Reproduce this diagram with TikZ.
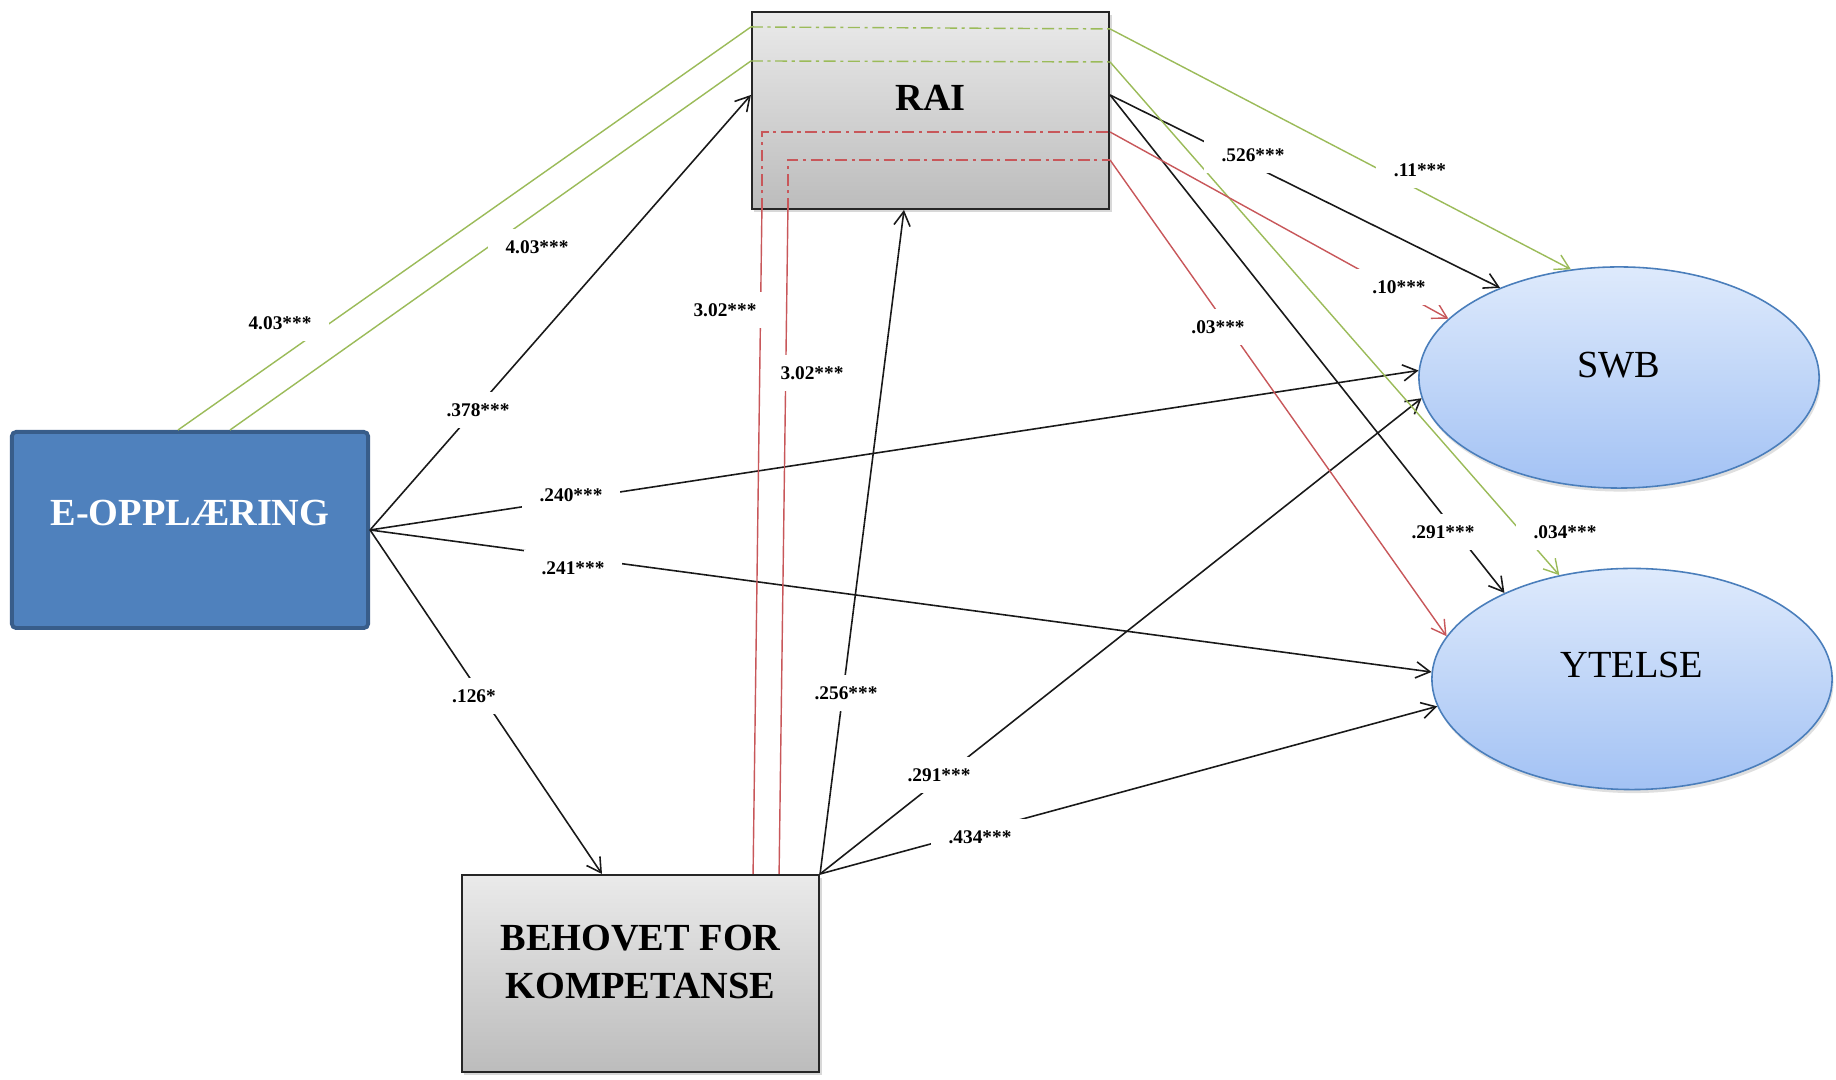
\documentclass[tikz,border=0pt]{standalone}
\usepackage{fontspec}
\setmainfont{Liberation Serif}
\usetikzlibrary{shapes.geometric,arrows.meta,shadows,calc}

\definecolor{boxtop}{HTML}{EAEAEA}
\definecolor{boxbot}{HTML}{BCBCBC}
\definecolor{ovaltop}{HTML}{DEEAFC}
\definecolor{ovalbot}{HTML}{A3C2F4}
\definecolor{ovalline}{HTML}{4A7EBB}
\definecolor{eblue}{HTML}{4F81BD}
\definecolor{eblueline}{HTML}{385D8A}
\definecolor{pathgreen}{HTML}{9BBB59}
\definecolor{pathred}{HTML}{C8575A}

\begin{document}
\begin{tikzpicture}[x=0.01cm, y=-0.01cm,
  mainfont/.style={font=\fontsize{10.9pt}{13.66pt}\selectfont},
  greybox/.style={rectangle, draw=black!85, line width=0.55pt,
    top color=boxtop, bottom color=boxbot,
    minimum width=3.57cm, minimum height=1.97cm, inner sep=0pt, align=center,
    mainfont, font=\fontsize{10.9pt}{13.66pt}\selectfont\bfseries,
    drop shadow={shadow xshift=0.7pt, shadow yshift=-0.9pt, opacity=0.3}},
  ebox/.style={rectangle, rounded corners=1.2pt, draw=eblueline, line width=1.1pt,
    fill=eblue, text=white, minimum width=3.56cm, minimum height=1.96cm, inner sep=0pt,
    font=\fontsize{10.9pt}{13.66pt}\selectfont\bfseries},
  oval/.style={ellipse, draw=ovalline, line width=0.45pt,
    top color=ovaltop, bottom color=ovalbot,
    minimum width=4cm, minimum height=2.21cm, inner sep=0pt,
    font=\fontsize{10.9pt}{13.66pt}\selectfont,
    drop shadow={shadow xshift=0.4pt, shadow yshift=-1pt, opacity=0.25}},
  coef/.style={fill=white, inner xsep=0.18cm, inner ysep=0.11cm,
    font=\fontsize{5.5pt}{6.6pt}\selectfont\bfseries},
  arr/.style={-{Straight Barb[length=4pt,width=4.6pt]}},
  blk/.style={draw=black!90, line width=0.45pt},
  grn/.style={draw=pathgreen, line width=0.4pt},
  rd/.style={draw=pathred, line width=0.4pt},
  dd/.style={dash pattern=on 3.4pt off 1.3pt on 0.9pt off 1.3pt}
]
\fill[white] (0,0) rectangle (1836,1080);
\useasboundingbox (0,0) rectangle (1836,1080);

% constructs
\node[greybox, text depth=0.26cm] (rai) at (930.5,110.5) {RAI};
\node[ebox, text depth=0.34cm] (eopp) at (190,530) {E-OPPLÆRING};
\node[greybox, text depth=0.24cm] (beh) at (640.5,973.5) {BEHOVET FOR\\KOMPETANSE};
\node[oval, text depth=0.25cm] (swb) at (1619,377.5) {SWB};
\node[oval, text depth=0.28cm] (ytelse) at (1632,679) {YTELSE};

% attachment points on RAI
\coordinate (raiW) at ([yshift=0.155cm]rai.west);
\coordinate (raiE) at ([yshift=0.155cm]rai.east);
\coordinate (raiS) at ([xshift=-0.265cm]rai.south);
\coordinate (g1in) at ([yshift=0.835cm]rai.west);
\coordinate (g1out) at ([yshift=0.815cm]rai.east);
\coordinate (g2in) at ([yshift=0.495cm]rai.west);
\coordinate (g2out) at ([yshift=0.485cm]rai.east);
\coordinate (r1in) at ([xshift=-1.685cm]rai.south);
\coordinate (r1out) at ([yshift=-0.215cm]rai.east);
\coordinate (r2in) at ([xshift=-1.425cm]rai.south);
\coordinate (r2out) at ([yshift=-0.495cm]rai.east);

% direct effects
\draw[blk, arr] (eopp.east) -- (raiW);
\draw[blk, arr] (eopp.east) -- (swb.178.6);
\draw[blk, arr] (eopp.east) -- (ytelse.178.6);
\draw[blk, arr] (eopp.east) -- ([xshift=-0.385cm]beh.north);
\draw[blk, arr] (beh.north east) -- (raiS);
\draw[blk, arr] (beh.north east) -- (swb.-174.2);
\draw[blk, arr] (beh.north east) -- (ytelse.-172);
\draw[blk, arr] (raiE) -- (swb.143.4);
\draw[blk, arr] (raiE) -- (ytelse.146.3);

% indirect effects of E-OPPLÆRING through RAI
\draw[grn] ([xshift=-0.12cm]eopp.north) -- (g1in);
\draw[grn, dd] (g1in) -- (g1out);
\draw[grn, arr] (g1out) -- (swb.114.9);
\draw[grn] ([xshift=0.4cm]eopp.north) -- (g2in);
\draw[grn, dd] (g2in) -- (g2out);
\draw[grn, arr] (g2out) -- (ytelse.125.4);

% indirect effects of BEHOVET FOR KOMPETANSE through RAI
\draw[rd] ([xshift=1.125cm]beh.north) -- (r1in);
\draw[rd, dd] (r1in) -- (r1in |- r1out) -- (r1out);
\draw[rd, arr] (r1out) -- (swb.161.1);
\draw[rd] ([xshift=1.385cm]beh.north) -- (r2in);
\draw[rd, dd] (r2in) -- (r2in |- r2out) -- (r2out);
\draw[rd, arr] (r2out) -- (ytelse.167.5);

% coefficients
\node[coef] (c1) at (280,323) {4.03***};
\node[coef] (c2) at (537,247) {4.03***};
\node[coef] (c3) at (478,410) {.378***};
\node[coef] (c4) at (571,495) {.240***};
\node[coef] (c5) at (573,568) {.241***};
\node[coef] (c6) at (474,696) {.126*};
\node[coef] (c7) at (725,310) {3.02***};
\node[coef] (c8) at (812,373) {3.02***};
\node[coef] (c9) at (846,693) {.256***};
\node[coef] (c10) at (939,775) {.291***};
\node[coef] (c11) at (980,837) {.434***};
\node[coef] (c12) at (1253,155) {.526***};
\node[coef] (c13) at (1420,170) {.11***};
\node[coef] (c14) at (1399,287) {.10***};
\node[coef] (c15) at (1218,327) {.03***};
\node[coef] (c16) at (1443,532) {.291***};
\node[coef] (c17) at (1565,532) {.034***};
\end{tikzpicture}
\end{document}
